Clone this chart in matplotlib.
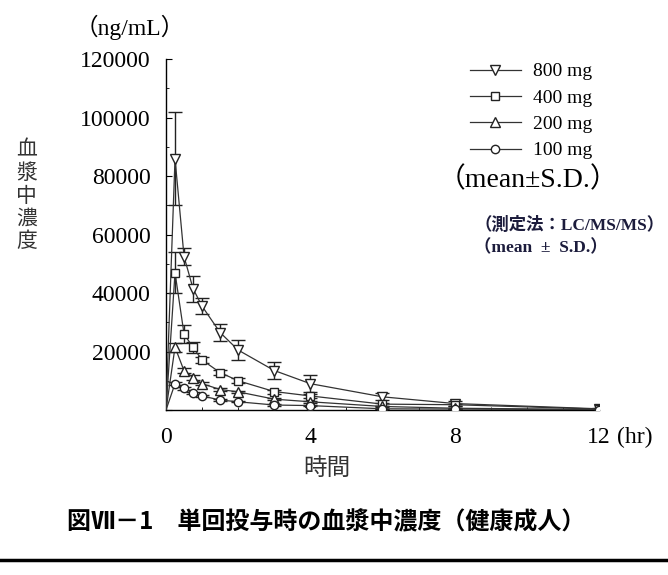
import numpy as np
import matplotlib
matplotlib.use('Agg')
import matplotlib.pyplot as plt
from matplotlib.lines import Line2D
from matplotlib.ticker import MultipleLocator

# ═══ Data ═══
time_hr = [0, 0.25, 0.5, 0.75, 1, 1.5, 2, 3, 4, 6, 8, 12]

conc_800 = [0, 86000, 52500, 41500, 35500, 26500, 20500, 13500, 9000, 4500, 2200, 400]
sd_800 = [0, 16000, 3000, 4500, 2800, 3000, 3300, 2800, 2800, 1200, 700, 200]

conc_400 = [0, 47000, 26000, 21400, 17100, 12800, 10000, 6300, 4800, 2000, 1800, 300]
sd_400 = [0, 7000, 3000, 2000, 1000, 1000, 800, 700, 600, 500, 400, 100]

conc_200 = [0, 21500, 13400, 11100, 9000, 7000, 6200, 3700, 2800, 1200, 600, 150]
sd_200 = [0, 1500, 900, 800, 600, 500, 400, 300, 300, 200, 100, 50]

conc_100 = [0, 9000, 7500, 5700, 4800, 3400, 2800, 1700, 1500, 400, 300, 100]
sd_100 = [0, 600, 500, 400, 300, 300, 200, 200, 200, 100, 100, 50]

doses = ['800 mg', '400 mg', '200 mg', '100 mg']
series = [conc_800, conc_400, conc_200, conc_100]
errors = [sd_800, sd_400, sd_200, sd_100]
markers = ['v', 's', '^', 'o']

SERIF = ['Liberation Serif', 'DejaVu Serif']
JP = ['Noto Sans CJK JP', 'DejaVu Sans']
MIXED = ['Liberation Serif', 'Noto Sans CJK JP']

fig = plt.figure(figsize=(6.68, 5.75), dpi=100)
ax = fig.add_axes([0.2485, 0.287, 0.6482, 0.610])

handles = []
for name, vals, sd, mk in zip(doses, series, errors, markers):
    ax.errorbar(time_hr[1:], vals[1:], yerr=sd[1:], fmt='none', ecolor='#222222',
                elinewidth=1.0, capsize=5, capthick=1.0, zorder=2)
    line, = ax.plot(time_hr, vals, color='#333333', linewidth=0.9,
                    marker=mk, markevery=list(range(1, len(time_hr))),
                    markersize=7 if mk in 'v^' else 6, markerfacecolor='white',
                    markeredgecolor='#222222', markeredgewidth=1.0,
                    label=name, zorder=3)
    handles.append(line)

ax.set_xlim(0, 12)
ax.set_ylim(0, 120000)
ax.set_xticks([0, 4, 8, 12])
ax.set_yticks(np.arange(0, 120001, 20000))
ax.yaxis.set_minor_locator(MultipleLocator(10000))
ax.xaxis.set_minor_locator(MultipleLocator(1))
ax.set_yticklabels(['' if v == 0 else str(v) for v in range(0, 120001, 20000)])
ax.tick_params(axis='both', direction='in', length=3, width=0.8, labelsize=17, pad=11)
ax.tick_params(axis='y', which='major', length=4)
ax.tick_params(axis='both', which='minor', direction='in', length=2, width=0.6)
ax.tick_params(axis='x', which='major', length=0, pad=12)
for lab in ax.get_xticklabels() + ax.get_yticklabels():
    lab.set_family(SERIF)
ax.spines['top'].set_visible(False)
ax.spines['right'].set_visible(False)
ax.spines['left'].set_linewidth(1.0)
ax.spines['bottom'].set_linewidth(1.0)

# unit after the last x tick label
ax.annotate('(hr)', xy=(12, 0), xycoords='data', xytext=(13, -12),
            textcoords='offset points', ha='left', va='top',
            fontsize=17, family=SERIF)

leg = ax.legend(handles=handles, loc='upper left', bbox_to_anchor=(0.702, 0.99),
                frameon=False, handlelength=2.6, handletextpad=0.65,
                labelspacing=0.45, borderpad=0, borderaxespad=0,
                prop={'family': SERIF, 'size': 14})

fig.text(0.655, 0.687, '（mean±S.D.）', fontsize=20, family=MIXED, va='center', ha='left')
fig.text(0.71, 0.608, '（測定法：LC/MS/MS）', fontsize=12.5, family=MIXED,
         fontweight='bold', color='#1c1c3c', va='center', ha='left')
fig.text(0.71, 0.568, '（mean  ±  S.D.）', fontsize=12.5, family=MIXED,
         fontweight='bold', color='#1c1c3c', va='center', ha='left')

fig.text(0.112, 0.952, '（ng/mL）', fontsize=17, family=MIXED, va='center', ha='left')
fig.text(0.040, 0.66, '血\n漿\n中\n濃\n度', fontsize=15, family=JP, color='#333333',
         va='center', ha='center', linespacing=1.05)
fig.text(0.49, 0.186, '時間', fontsize=17, family=JP, color='#333333',
         va='center', ha='center')

fig.text(0.1, 0.092, '図Ⅶ－1　単回投与時の血漿中濃度（健康成人）', fontsize=17.3,
         family=JP, fontweight='bold', va='center', ha='left')

fig.add_artist(Line2D([0, 1], [0.026, 0.026], transform=fig.transFigure,
                      color='black', linewidth=2.5))

fig.savefig('out.png', dpi=100)
